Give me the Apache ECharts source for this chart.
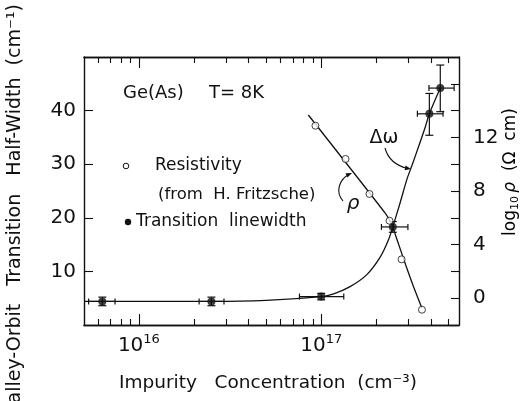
<!DOCTYPE html>
<html>
<head>
<meta charset="utf-8">
<script src="https://cdn.jsdelivr.net/npm/echarts@6/dist/echarts.min.js"></script>
<style>
  html, body { margin: 0; padding: 0; background: #fff; }
  #chart { width: 527px; height: 401px; }
</style>
</head>
<body>
<div id="chart"></div>
<script>
// Transition linewidth (filled dots), concentration in cm^-3, width in cm^-1
const lwConc = [6.3e15, 2.5e16, 1.0e17, 2.47e17, 3.92e17, 4.5e17];
const lwWidth = [4.4, 4.4, 5.3, 18.3, 39.4, 44.2];
const lwConcLo = [5.3e15, 2.14e16, 7.6e16, 2.14e17, 3.37e17, 3.9e17];
const lwConcHi = [7.4e15, 2.93e16, 1.33e17, 2.99e17, 4.66e17, 5.36e17];
const lwWidthLo = [3.6, 3.6, 4.7, 17.3, 35.4, 39.8];
const lwWidthHi = [5.2, 5.2, 5.9, 19.3, 43.2, 48.5];

// Resistivity (open circles), log10 rho in ohm cm
const resConc = [9.3e16, 1.36e17, 1.84e17, 2.37e17, 2.76e17, 3.57e17];
const resLogRho = [12.87, 10.39, 7.78, 5.78, 2.9, -0.86];

// hand-drawn curves
const dwCurveConc = [5e15, 2.5e16, 5e16, 1.0e17, 1.17e17, 1.44e17, 1.78e17, 2.11e17, 2.34e17, 2.47e17,
                     2.72e17, 2.96e17, 3.15e17, 3.43e17, 3.72e17, 3.92e17, 4.5e17];
const dwCurveWidth = [4.4, 4.4, 4.6, 5.3, 5.8, 7.15, 9.4, 12.7, 15.9, 18.3,
                      23.0, 27.3, 29.8, 33.4, 36.9, 39.4, 44.2];
const rhoCurveConc = [8.5e16, 2.24e17, 2.44e17, 2.61e17, 2.93e17, 3.21e17, 3.57e17];
const rhoCurveLog = [13.67, 6.36, 5.5, 4.34, 2.35, 0.86, -0.75];

// axis ticks
const xMajor = [1e16, 1e17];
const xMinor = [6e15, 7e15, 8e15, 9e15, 2e16, 3e16, 4e16, 5e16, 6e16, 7e16, 8e16, 9e16, 2e17, 3e17, 4e17, 5e17];
const leftTicks = [10, 20, 30, 40];
const rightTicks = [0, 2, 4, 6, 8, 10, 12, 14, 16];
const rightLabels = [0, 4, 8, 12];

const FONT = "'DejaVu Sans', sans-serif";
const INK = '#111';
const lg = Math.log10;
const X_MIN = lg(5e15);
const X_MAX = lg(5.7e17);

const zip = (xs, ys) => xs.map((x, i) => [lg(x), ys[i]]);

const gridBox = { left: 84, right: 68, top: 57, bottom: 76 };

function xAxisDef(gridIndex, position, ticks, len, labels) {
    return {
        type: 'value', gridIndex: gridIndex, position: position,
        min: X_MIN, max: X_MAX,
        axisLine: { show: true, onZero: false, lineStyle: { color: INK, width: 1.4 } },
        axisTick: { show: true, inside: true, length: len, customValues: ticks.map(lg),
            lineStyle: { color: INK, width: 1.1 } },
        axisLabel: labels ? {
            show: true, customValues: xMajor.map(lg), margin: 8,
            formatter: v => '{b|10}{s|' + Math.round(v) + '}',
            rich: {
                b: { fontSize: 20, fontFamily: FONT, color: INK },
                s: { fontSize: 13, fontFamily: FONT, color: INK, padding: [0, 0, 12, 0] }
            }
        } : { show: false },
        splitLine: { show: false }
    };
}

// arrow head triangle for the annotation arrows
function arrowHead(tip, from, size) {
    const dx = tip[0] - from[0], dy = tip[1] - from[1];
    const l = Math.sqrt(dx * dx + dy * dy);
    const ux = dx / l, uy = dy / l;
    const bx = tip[0] - ux * size, by = tip[1] - uy * size;
    return [tip, [bx - uy * size * 0.4, by + ux * size * 0.4], [bx + uy * size * 0.4, by - ux * size * 0.4]];
}

const txt = (x, y, text, size, align) => ({
    type: 'text', x: x, y: y,
    style: { text: text, font: size + 'px ' + FONT, fill: INK, textAlign: align || 'left', textVerticalAlign: 'middle' }
});

const chart = echarts.init(document.getElementById('chart'), null, { renderer: 'canvas' });

chart.setOption({
    animation: false,
    backgroundColor: '#fff',
    grid: [
        Object.assign({}, gridBox),
        Object.assign({}, gridBox)
    ],
    xAxis: [
        xAxisDef(0, 'bottom', xMinor, 6, true),
        xAxisDef(0, 'top', xMinor, 6, false),
        xAxisDef(1, 'bottom', xMajor, 11, false),
        xAxisDef(1, 'top', xMajor, 11, false)
    ],
    yAxis: [
        {
            type: 'value', gridIndex: 0, position: 'left', min: 0, max: 50,
            axisLine: { show: true, onZero: false, lineStyle: { color: INK, width: 1.4 } },
            axisTick: { show: true, inside: true, length: 9, customValues: leftTicks, lineStyle: { color: INK, width: 1.1 } },
            axisLabel: { show: true, customValues: leftTicks, margin: 8, fontSize: 20, fontFamily: FONT, color: INK },
            splitLine: { show: false }
        },
        {
            type: 'value', gridIndex: 0, position: 'right', min: -2, max: 18,
            axisLine: { show: true, onZero: false, lineStyle: { color: INK, width: 1.4 } },
            axisTick: { show: true, inside: true, length: 8, customValues: rightTicks, lineStyle: { color: INK, width: 1.1 } },
            axisLabel: { show: true, customValues: rightLabels, margin: 14, fontSize: 20, fontFamily: FONT, color: INK },
            splitLine: { show: false }
        },
        { type: 'value', gridIndex: 1, min: 0, max: 50, show: false }
    ],
    series: [
        {
            type: 'line', xAxisIndex: 0, yAxisIndex: 0,
            data: zip(dwCurveConc, dwCurveWidth),
            smooth: 0.25, showSymbol: false,
            lineStyle: { color: INK, width: 1.3 }, z: 2
        },
        {
            type: 'line', xAxisIndex: 0, yAxisIndex: 1,
            data: zip(rhoCurveConc, rhoCurveLog),
            smooth: 0.2, showSymbol: false,
            lineStyle: { color: INK, width: 1.3 }, z: 2
        },
        {
            type: 'custom', xAxisIndex: 0, yAxisIndex: 0, z: 3,
            data: lwConc.map((c, i) => [lg(c), lwWidth[i], lg(lwConcLo[i]), lg(lwConcHi[i]), lwWidthLo[i], lwWidthHi[i]]),
            encode: { x: [0, 2, 3], y: [1, 4, 5] },
            renderItem: function (params, api) {
                const x = api.value(0), y = api.value(1);
                const pl = api.coord([api.value(2), y]);
                const ph = api.coord([api.value(3), y]);
                const pb = api.coord([x, api.value(4)]);
                const pt = api.coord([x, api.value(5)]);
                const st = { stroke: INK, lineWidth: 1.2 };
                const ln = (x1, y1, x2, y2) => ({ type: 'line', shape: { x1: x1, y1: y1, x2: x2, y2: y2 }, style: st });
                return {
                    type: 'group',
                    children: [
                        ln(pl[0], pl[1], ph[0], ph[1]),
                        ln(pl[0], pl[1] - 3, pl[0], pl[1] + 3),
                        ln(ph[0], ph[1] - 3, ph[0], ph[1] + 3),
                        ln(pb[0], pb[1], pt[0], pt[1]),
                        ln(pb[0] - 4, pb[1], pb[0] + 4, pb[1]),
                        ln(pt[0] - 4, pt[1], pt[0] + 4, pt[1])
                    ]
                };
            }
        },
        {
            type: 'scatter', xAxisIndex: 0, yAxisIndex: 0, z: 4,
            data: zip(lwConc, lwWidth),
            symbol: 'circle', symbolSize: 8,
            itemStyle: { color: INK }
        },
        {
            type: 'scatter', xAxisIndex: 0, yAxisIndex: 1, z: 4,
            data: zip(resConc, resLogRho),
            symbol: 'circle', symbolSize: 7,
            itemStyle: { color: '#fff', borderColor: INK, borderWidth: 1 }
        }
    ],
    graphic: [
        txt(123, 93, 'Ge(As)', 18),
        txt(209, 93, 'T= 8K', 18),
        { type: 'circle', shape: { cx: 126, cy: 166, r: 2.8 }, style: { fill: '#fff', stroke: INK, lineWidth: 1 } },
        txt(155, 166, 'Resistivity', 17),
        txt(158, 195, '(from  H. Fritzsche)', 16.5),
        { type: 'circle', shape: { cx: 128, cy: 222, r: 3.2 }, style: { fill: INK } },
        txt(136, 222, 'Transition  linewidth', 17),
        // rho annotation
        { type: 'text', x: 353, y: 204,
          style: { text: 'ρ', font: 'italic 20px ' + FONT, fill: INK, textAlign: 'center', textVerticalAlign: 'middle' } },
        { type: 'bezierCurve', shape: { x1: 343, y1: 201, cpx1: 335, cpy1: 192, cpx2: 339, cpy2: 179, x2: 350, y2: 174 },
          style: { stroke: INK, lineWidth: 1.1, fill: null } },
        { type: 'polygon', shape: { points: arrowHead([352, 173], [345, 176], 6) }, style: { fill: INK } },
        // delta omega annotation
        txt(384, 138, 'Δω', 19, 'center'),
        { type: 'bezierCurve', shape: { x1: 385, y1: 148, cpx1: 388, cpy1: 159, cpx2: 397, cpy2: 166, x2: 408, y2: 168.5 },
          style: { stroke: INK, lineWidth: 1.1, fill: null } },
        { type: 'polygon', shape: { points: arrowHead([411, 169], [403, 167.5], 6) }, style: { fill: INK } },
        // axis titles
        { type: 'text', x: 15, y: 4, rotation: Math.PI / 2,
          style: { text: 'Valley-Orbit   Transition   Half-Width  (cm⁻¹)', font: '19px ' + FONT, fill: INK,
                   textAlign: 'right', textVerticalAlign: 'middle' } },
        { type: 'text', x: 511, y: 172, rotation: Math.PI / 2,
          style: { text: '{a|log}{s|10} {i|ρ}{a|  (Ω  cm)}', textAlign: 'center', textVerticalAlign: 'middle',
                   rich: {
                       a: { fontSize: 17, fontFamily: FONT, color: INK },
                       s: { fontSize: 11, fontFamily: FONT, color: INK, padding: [8, 0, 0, 0] },
                       i: { fontSize: 17, fontFamily: FONT, fontStyle: 'italic', color: INK }
                   } } },
        txt(268, 383, 'Impurity   Concentration  (cm⁻³)', 18.5, 'center')
    ]
});
</script>
</body>
</html>
